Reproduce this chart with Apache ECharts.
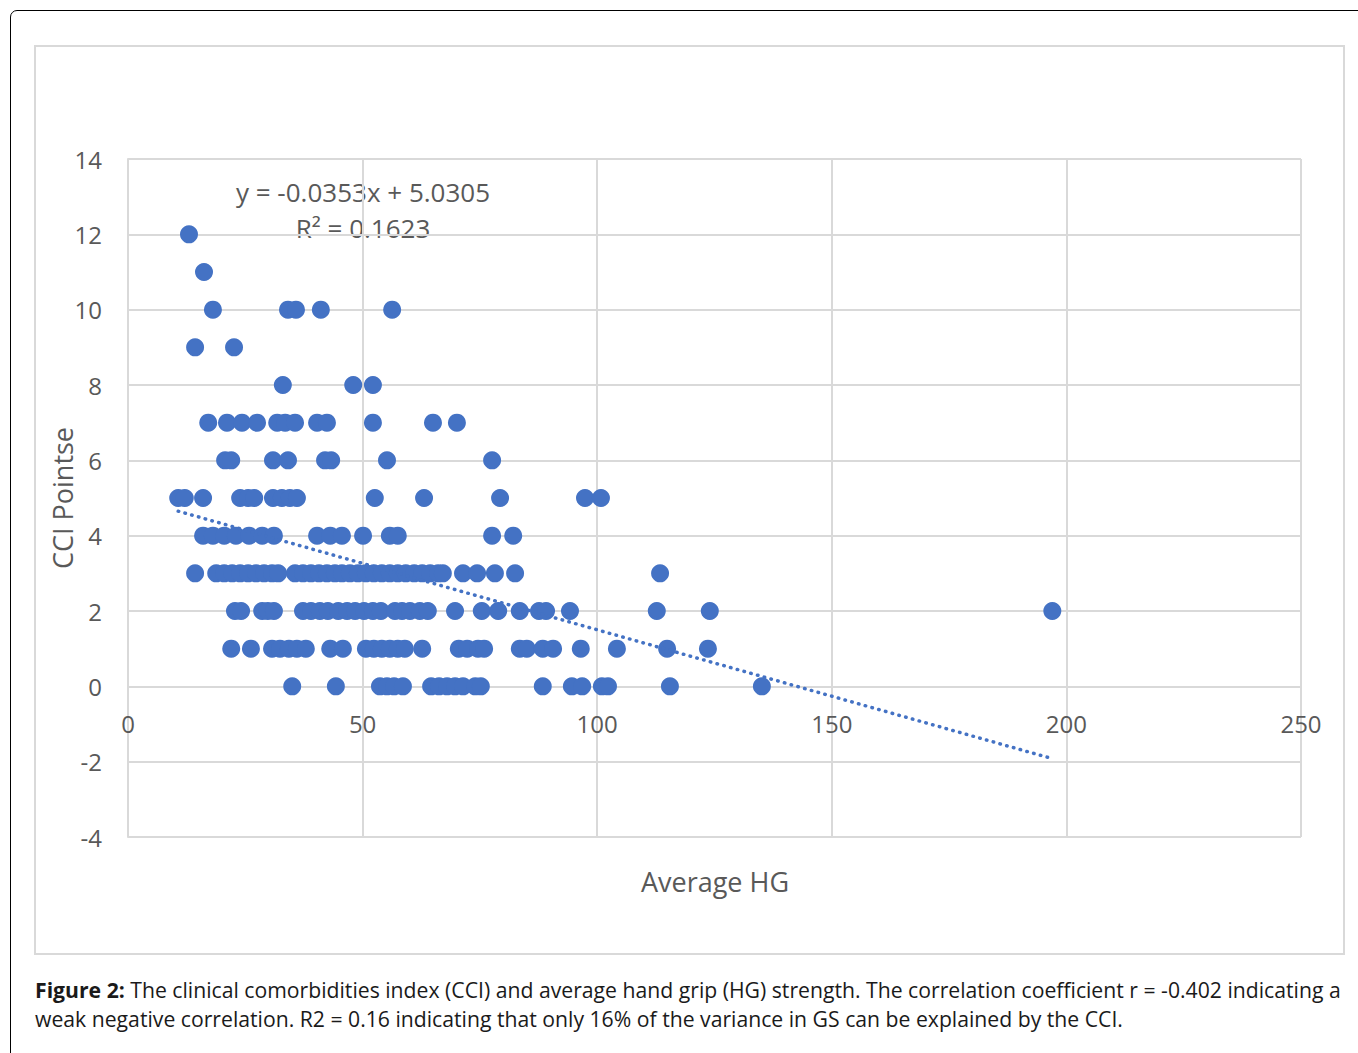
<!DOCTYPE html>
<html>
<head>
<meta charset="utf-8">
<script src="https://cdn.jsdelivr.net/npm/echarts@6/dist/echarts.min.js"></script>
<style>
  html, body { margin: 0; padding: 0; width: 1358px; height: 1053px; overflow: hidden; background: #fff; }
  #frame { position: absolute; left: 10px; top: 10px; width: 1400px; height: 1100px; border: 1px solid #000; border-radius: 7px; box-sizing: border-box; }
  #box { position: absolute; left: 34px; top: 45px; width: 1311px; height: 910px; border: 2px solid #d9d9d9; box-sizing: border-box; }
  #chart { position: absolute; left: 0; top: 0; width: 1358px; height: 1053px; }
  #caption { position: absolute; left: 35px; top: 975px; font-family: "Open Sans", sans-serif; font-size: 21.2px; line-height: 29px; color: #1a1a1a; white-space: nowrap; }
</style>
</head>
<body>
<div id="frame"></div>
<div id="box"></div>
<div id="chart"></div>
<div id="caption"><b>Figure 2:</b> The clinical comorbidities index (CCI) and average hand grip (HG) strength. The correlation coefficient r = -0.402 indicating a<br>weak negative correlation. R2 = 0.16 indicating that only 16% of the variance in GS can be explained by the CCI.</div>
<script>
// Average HG values for each CCI score
const hg12 = [13.0];
const hg11 = [16.2];
const hg10 = [18.1, 34.1, 35.8, 41.1, 56.3];
const hg9 = [14.3, 22.6];
const hg8 = [33.0, 48.0, 52.2];
const hg7 = [17.1, 21.1, 24.3, 27.5, 31.8, 33.5, 35.6, 40.3, 42.4, 52.2, 65.0, 70.1];
const hg6 = [20.7, 22.0, 30.9, 34.1, 42.0, 43.3, 55.2, 77.6];
const hg5 = [10.7, 12.1, 16.0, 23.9, 25.6, 26.9, 30.9, 32.8, 34.5, 36.0, 52.6, 63.1, 79.3, 97.4, 100.8];
const hg4 = [16.0, 18.1, 20.5, 23.0, 25.8, 28.6, 31.1, 40.3, 43.1, 45.6, 50.1, 55.8, 57.5, 77.6, 82.1];
const hg3 = [14.3, 18.8, 20.5, 22.2, 23.9, 25.6, 27.3, 29.0, 30.7, 32.0, 35.6, 37.3, 39.0, 40.7, 42.4, 44.1, 45.6, 47.3, 49.0, 50.7, 52.4, 54.1, 55.8, 57.5, 59.2, 61.0, 62.7, 64.4, 66.1, 67.1, 71.4, 74.4, 78.2, 82.5, 113.4];
const hg2 = [22.8, 24.1, 28.6, 29.8, 31.1, 37.3, 39.0, 40.9, 42.6, 44.8, 46.7, 48.4, 50.3, 52.2, 53.9, 56.9, 58.4, 60.1, 62.2, 63.9, 69.7, 75.4, 78.9, 83.5, 87.6, 89.1, 94.2, 112.7, 124.0, 197.0];
const hg1 = [22.0, 26.2, 30.7, 32.4, 34.3, 36.0, 37.9, 43.1, 45.8, 50.7, 52.4, 54.1, 55.8, 57.5, 59.0, 62.7, 70.5, 72.3, 74.6, 75.9, 83.5, 85.0, 88.4, 90.6, 96.5, 104.2, 114.9, 123.6];
const hg0 = [35.0, 44.3, 53.7, 55.2, 56.7, 58.6, 64.6, 66.3, 68.0, 69.7, 71.4, 74.0, 75.2, 88.4, 94.6, 96.8, 101.0, 102.3, 115.5, 135.1];
const trendLine = [[10.7, 4.65], [197.0, -1.92]];
const xTicks = [0, 50, 100, 150, 200, 250];
const yTicks = [-4, -2, 0, 2, 4, 6, 8, 10, 12, 14];
const equationText = 'y = -0.0353x + 5.0305';
const r2Text = 'R² = 0.1623';

const rows = [[12, hg12], [11, hg11], [10, hg10], [9, hg9], [8, hg8], [7, hg7], [6, hg6], [5, hg5], [4, hg4], [3, hg3], [2, hg2], [1, hg1], [0, hg0]];
const points = [];
rows.forEach(([cci, arr]) => arr.forEach(x => points.push([x, cci])));

const textColor = '#595959';
const gridColor = '#d9d9d9';
const font = '"Open Sans", sans-serif';

// grid geometry; x axis sits on the y = 0 line
const gridTop = 159, gridBottom = 216, pageH = 1053;
const yMin = yTicks[0], yMax = yTicks[yTicks.length - 1];
const plotH = pageH - gridTop - gridBottom;
const zeroOffset = -plotH * (0 - yMin) / (yMax - yMin);

const chart = echarts.init(document.getElementById('chart'), null, { renderer: 'svg' });
chart.setOption({
  animation: false,
  grid: { left: 128, right: 57, top: gridTop, bottom: gridBottom, containLabel: false },
  xAxis: {
    type: 'value', min: xTicks[0], max: xTicks[xTicks.length - 1], interval: 50,
    position: 'bottom', offset: zeroOffset,
    axisLine: { show: true, onZero: false, lineStyle: { color: gridColor, width: 2 } },
    axisTick: { show: false },
    axisLabel: { color: textColor, fontSize: 24, fontFamily: font, margin: 25 },
    splitLine: { show: true, lineStyle: { color: gridColor, width: 2 } }
  },
  yAxis: {
    type: 'value', min: yMin, max: yMax, interval: 2,
    name: 'CCI Pointse', nameLocation: 'middle', nameGap: 52, nameRotate: 90,
    nameMoveOverlap: false,
    nameTextStyle: { color: textColor, fontSize: 27, fontFamily: font },
    axisLine: { show: true, onZero: false, lineStyle: { color: gridColor, width: 2 } },
    axisTick: { show: false },
    axisLabel: { color: textColor, fontSize: 24, fontFamily: font, margin: 26 },
    splitLine: { show: true, lineStyle: { color: gridColor, width: 2 } }
  },
  graphic: [
    { type: 'text', x: 715, y: 881, style: { text: 'Average HG', fill: textColor, font: '27px ' + font, align: 'center', verticalAlign: 'middle' } },
    { type: 'text', x: 363, y: 192, style: { text: equationText, fill: textColor, font: '26px ' + font, align: 'center', verticalAlign: 'middle' } },
    { type: 'text', x: 363, y: 228, style: { text: r2Text, fill: textColor, font: '26px ' + font, align: 'center', verticalAlign: 'middle' } }
  ],
  series: [
    {
      type: 'scatter', data: points, symbol: 'circle', symbolSize: 18,
      itemStyle: { color: '#4472C4', opacity: 1 }, z: 3
    },
    {
      type: 'line', data: trendLine, showSymbol: false, symbol: 'none',
      lineStyle: { color: '#4472C4', width: 3.5, type: [0.5, 6.5], cap: 'round' }, z: 4
    }
  ]
});
</script>
</body>
</html>
